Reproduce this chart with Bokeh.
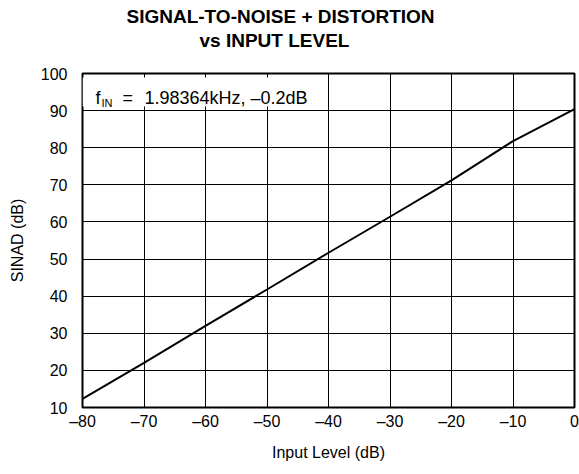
from bokeh.plotting import figure
from bokeh.models import (FixedTicker, Range1d, Label, BoxAnnotation, Title)
from bokeh.embed import file_html
from bokeh.resources import INLINE

# ---- data ----
input_level = [-80, -70, -60, -50, -40, -30, -20, -10, 0]
sinad = [12.3, 22.0, 32.0, 41.8, 51.7, 61.4, 71.2, 81.8, 90.4]

x_ticks = [-80, -70, -60, -50, -40, -30, -20, -10, 0]
x_tick_labels = ["\u201380", "\u201370", "\u201360", "\u201350", "\u201340",
                 "\u201330", "\u201320", "\u201310", "0"]
y_ticks = [10, 20, 30, 40, 50, 60, 70, 80, 90, 100]
y_tick_labels = [str(v) for v in y_ticks]

title_line1 = "SIGNAL-TO-NOISE + DISTORTION"
title_line2 = "vs INPUT LEVEL"
x_label = "Input Level (dB)"
y_label = "SINAD (dB)"
note_f = "f"
note_sub = "IN"
note_eq = "="
note_rest = "1.98364kHz, \u20130.2dB"

FONT = "Liberation Sans"

p = figure(width=579, height=474, output_backend="svg", toolbar_location=None,
           x_range=Range1d(-80, 0), y_range=Range1d(10, 100),
           min_border_left=82, min_border_right=5, min_border_top=73,
           min_border_bottom=67)
p.title = None

# titles
t2 = Title(text=title_line2, align="left", offset=117, text_font=FONT,
           text_font_size="19px", text_font_style="bold", text_color="black",
           standoff=46)
t1 = Title(text=title_line1, align="left", offset=44, text_font=FONT,
           text_font_size="19px", text_font_style="bold", text_color="black",
           standoff=-45)
p.add_layout(t2, "above")
p.add_layout(t1, "above")

# frame
p.outline_line_color = "black"
p.outline_line_width = 2
p.background_fill_color = "white"
p.border_fill_color = "white"

# axes
for ax in (p.xaxis[0], p.yaxis[0]):
    ax.axis_line_color = None
    ax.major_tick_line_color = None
    ax.minor_tick_line_color = None
    ax.major_tick_out = 0
    ax.major_tick_in = 0
    ax.minor_tick_out = 0
    ax.major_label_text_font = FONT
    ax.major_label_text_font_size = "16px"
    ax.major_label_text_color = "black"
    ax.axis_label_text_font = FONT
    ax.axis_label_text_font_size = "16px"
    ax.axis_label_text_font_style = "normal"
    ax.axis_label_text_color = "black"

p.xaxis.ticker = FixedTicker(ticks=x_ticks)
p.xaxis.major_label_overrides = dict(zip(x_ticks, x_tick_labels))
p.xaxis.major_label_standoff = 5
p.xaxis.axis_label = x_label
p.xaxis.axis_label_standoff = 11

p.yaxis.ticker = FixedTicker(ticks=y_ticks)
p.yaxis.major_label_overrides = dict(zip(y_ticks, y_tick_labels))
p.yaxis.major_label_standoff = 15
p.yaxis.axis_label = y_label
p.yaxis.axis_label_standoff = 12

# grid
p.xgrid.ticker = FixedTicker(ticks=x_ticks)
p.ygrid.ticker = FixedTicker(ticks=y_ticks)
for g in (p.xgrid[0], p.ygrid[0]):
    g.grid_line_color = "black"
    g.grid_line_width = 1
    g.grid_line_alpha = 1.0

# data line
p.line(input_level, sinad, line_color="black", line_width=2)

# annotation box with white background
box = BoxAnnotation(left=-80, right=-40.7, bottom=91.1, top=98.9,
                    fill_color="white", fill_alpha=1.0, line_color=None)
p.add_layout(box)
p.add_layout(Label(x=-80, y=93.3, x_offset=13, text=note_f, text_font=FONT,
                   text_font_size="18px", text_color="black",
                   text_baseline="alphabetic"))
p.add_layout(Label(x=-80, y=91.95, x_offset=19, text=note_sub, text_font=FONT,
                   text_font_size="11px", text_color="black",
                   text_baseline="alphabetic"))
p.add_layout(Label(x=-80, y=93.3, x_offset=40, text=note_eq, text_font=FONT,
                   text_font_size="18px", text_color="black",
                   text_baseline="alphabetic"))
p.add_layout(Label(x=-80, y=93.3, x_offset=62, text=note_rest, text_font=FONT,
                   text_font_size="18px", text_color="black",
                   text_baseline="alphabetic"))

open("out.html", "w").write(file_html(p, INLINE))
